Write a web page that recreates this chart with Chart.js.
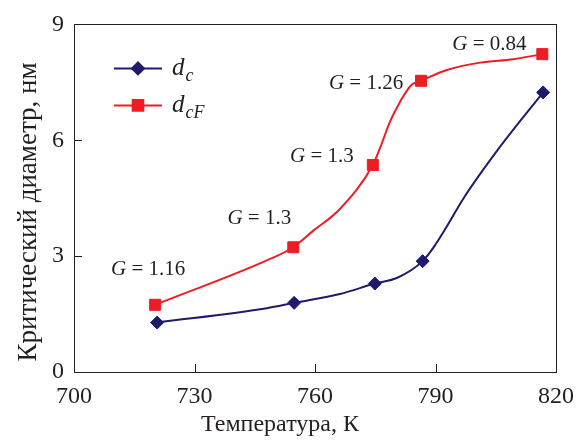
<!DOCTYPE html>
<html>
<head>
<meta charset="utf-8">
<script src="https://cdn.jsdelivr.net/npm/chart.js@4/dist/chart.umd.min.js"></script>
<style>
  html, body { margin: 0; padding: 0; background: #fff; }
  #wrap { width: 587px; height: 441px; }
</style>
</head>
<body>
<div id="wrap"><canvas id="chart" width="587" height="441"></canvas></div>
<script>
// marker positions (temperature, K) and values (nm)
const dcMarkT = [720.7, 754.8, 774.9, 786.8, 816.8];
const dcMarks = [1.28, 1.79, 2.29, 2.87, 7.24];
const dcfMarkT = [720.2, 754.6, 774.4, 786.4, 816.6];
const dcfMarks = [1.74, 3.23, 5.36, 7.54, 8.23];

// drawn curves (include the markers plus the extra points the curve passes through)
const dcCurveT = [720.7, 748, 754.8, 766.2, 774.9, 780.5, 786.8, 790, 793, 797, 806, 816.8];
const dcCurve = [1.28, 1.65, 1.79, 2.02, 2.29, 2.44, 2.87, 3.3, 3.8, 4.5, 5.82, 7.24];
const dcfCurveT = [720.2, 748, 754.6, 759.6, 766.2, 774.4, 776.2, 778.7, 781.2, 784, 786.4, 792.8, 801.1, 809.4, 816.6];
const dcfCurve = [1.74, 2.89, 3.23, 3.66, 4.22, 5.36, 5.8, 6.49, 7.0, 7.43, 7.54, 7.82, 8.01, 8.10, 8.23];

const gValues = ["1.16", "1.3", "1.3", "1.26", "0.84"];
const xTicks = [700, 730, 760, 790, 820];
const yTicks = [0, 3, 6, 9];
const xTitle = "Температура, К";
const yTitle = "Критический диаметр, нм";

const NAVY = "#1f1b6b";
const RED = "#ee1c25";
const INK = "#231f20";
const SERIF = "'Liberation Serif', 'DejaVu Serif', serif";

const pts = (xs, ys) => xs.map((x, i) => ({ x, y: ys[i] }));

// pixel offsets of each G label from its dcF marker
const gOffsets = [[-7, -35], [-34, -29], [-51, -9], [-55, 3], [-53, -10]];

const extras = {
  id: "extras",
  afterDraw(chart) {
    const { ctx, chartArea: a, scales } = chart;
    const xs = scales.x, ys = scales.y;
    ctx.save();
    // frame
    ctx.strokeStyle = INK;
    ctx.lineWidth = 1;
    ctx.strokeRect(Math.round(a.left) + 0.5, Math.round(a.top) + 0.5,
      Math.round(a.right - a.left), Math.round(a.bottom - a.top));
    // inward ticks
    ctx.beginPath();
    xTicks.slice(1, -1).forEach((t) => {
      const px = Math.round(xs.getPixelForValue(t)) + 0.5;
      ctx.moveTo(px, a.bottom); ctx.lineTo(px, a.bottom - 8);
    });
    yTicks.slice(1, -1).forEach((t) => {
      const py = Math.round(ys.getPixelForValue(t)) + 0.5;
      ctx.moveTo(a.left, py); ctx.lineTo(a.left + 8, py);
    });
    ctx.stroke();

    // axis titles
    ctx.fillStyle = INK;
    ctx.textAlign = "center";
    ctx.textBaseline = "middle";
    ctx.font = "24px " + SERIF;
    ctx.fillText(xTitle, 280, 425);
    ctx.save();
    ctx.translate(29, 212);
    ctx.rotate(-Math.PI / 2);
    ctx.font = "27px " + SERIF;
    ctx.fillText(yTitle, 0, 0);
    ctx.restore();

    // G labels
    ctx.fillStyle = INK;
    ctx.textBaseline = "middle";
    gValues.forEach((g, i) => {
      const cx = xs.getPixelForValue(dcfMarkT[i]) + gOffsets[i][0];
      const cy = ys.getPixelForValue(dcfMarks[i]) + gOffsets[i][1];
      ctx.font = "italic 21px " + SERIF;
      const wG = ctx.measureText("G").width;
      ctx.font = "21px " + SERIF;
      const rest = " = " + g;
      const wR = ctx.measureText(rest).width;
      const x = cx - (wG + wR) / 2;
      ctx.font = "italic 21px " + SERIF;
      ctx.textAlign = "left";
      ctx.fillText("G", x, cy);
      ctx.font = "21px " + SERIF;
      ctx.fillText(rest, x + wG, cy);
    });

    // legend
    const items = [
      { color: NAVY, style: "rectRot", radius: 6, sub: "c", y: a.top + 44 },
      { color: RED, style: "rect", radius: 7.5, sub: "cF", y: a.top + 81 },
    ];
    items.forEach((it) => {
      const x0 = a.left + 40, x1 = a.left + 88;
      ctx.strokeStyle = it.color;
      ctx.lineWidth = 2;
      ctx.beginPath();
      ctx.moveTo(x0, it.y); ctx.lineTo(x1, it.y);
      ctx.stroke();
      ctx.fillStyle = it.color;
      Chart.helpers.drawPoint(ctx, { pointStyle: it.style, radius: it.radius, borderWidth: 1 }, (x0 + x1) / 2, it.y);
      ctx.fill();
      ctx.fillStyle = INK;
      ctx.textAlign = "left";
      ctx.textBaseline = "alphabetic";
      ctx.font = "italic 25px " + SERIF;
      const tx = a.left + 98;
      ctx.fillText("d", tx, it.y + 7);
      const wd = ctx.measureText("d").width;
      ctx.font = "italic 18px " + SERIF;
      ctx.fillText(it.sub, tx + wd + 1, it.y + 13);
    });
    ctx.restore();
  },
};

new Chart(document.getElementById("chart"), {
  type: "scatter",
  data: {
    datasets: [
      {
        label: "dc curve",
        data: pts(dcCurveT, dcCurve),
        showLine: true,
        borderColor: NAVY,
        borderWidth: 2,
        pointRadius: 0,
        cubicInterpolationMode: "monotone",
      },
      {
        label: "dcF curve",
        data: pts(dcfCurveT, dcfCurve),
        showLine: true,
        borderColor: RED,
        borderWidth: 2,
        pointRadius: 0,
        cubicInterpolationMode: "monotone",
      },
      {
        label: "dc",
        data: pts(dcMarkT, dcMarks),
        pointStyle: "rectRot",
        pointRadius: 6.5,
        backgroundColor: NAVY,
        borderColor: NAVY,
        borderWidth: 1,
      },
      {
        label: "dcF",
        data: pts(dcfMarkT, dcfMarks),
        pointStyle: "rect",
        pointRadius: 7.8,
        backgroundColor: RED,
        borderColor: RED,
        borderWidth: 1,
      },
    ],
  },
  options: {
    responsive: false,
    animation: false,
    layout: { padding: { top: 22, right: 31, left: 0, bottom: 0 } },
    plugins: { legend: { display: false }, tooltip: { enabled: false } },
    scales: {
      x: {
        type: "linear",
        min: 700,
        max: 820,
        afterBuildTicks: (s) => { s.ticks = xTicks.map((v) => ({ value: v })); },
        afterFit: (s) => { s.height = 69; },
        grid: { display: false, drawTicks: false },
        border: { display: false },
        ticks: { color: INK, font: { family: SERIF, size: 24 }, padding: 10, maxRotation: 0 },
        title: { display: false },
      },
      y: {
        min: 0,
        max: 9,
        afterBuildTicks: (s) => { s.ticks = yTicks.map((v) => ({ value: v })); },
        afterFit: (s) => { s.width = 74; },
        grid: { display: false, drawTicks: false },
        border: { display: false },
        ticks: { color: INK, font: { family: SERIF, size: 24 }, padding: 10 },
        title: { display: false },
      },
    },
  },
  plugins: [extras],
});
</script>
</body>
</html>
